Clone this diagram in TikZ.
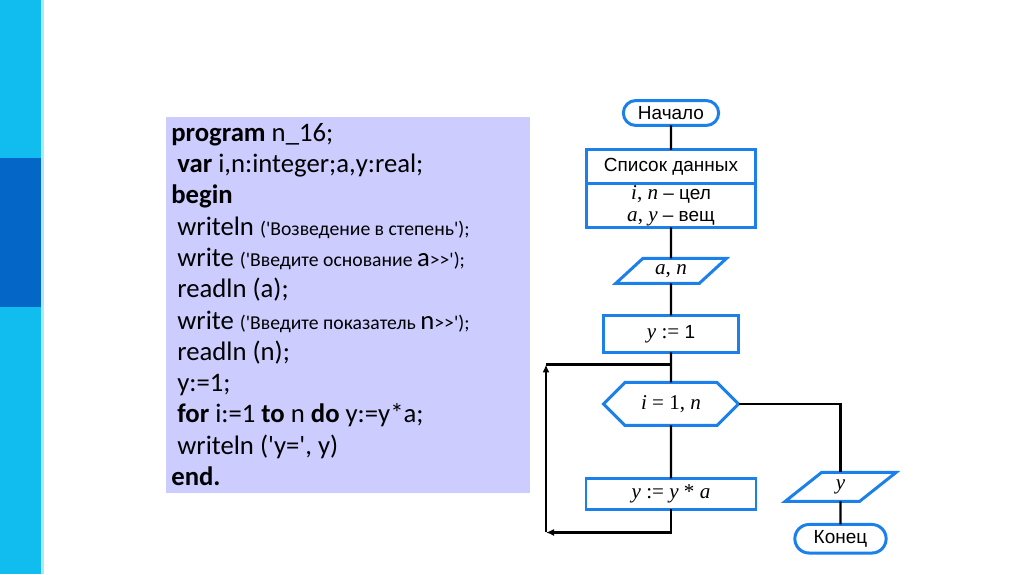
\documentclass[tikz,border=0pt]{standalone}
\usepackage{fontspec}
\newfontfamily\codefont[Ligatures=TeXOff]{Carlito}
\newfontfamily\flowfont{Liberation Sans}
\newfontfamily\tvfont{Liberation Serif}
\usetikzlibrary{arrows.meta,positioning,calc,shapes.geometric,shapes.misc,shapes.symbols}
\definecolor{bandcyan}{HTML}{10BDEE}
\definecolor{banddark}{HTML}{0466C6}
\definecolor{codebg}{HTML}{CCCCFF}
\definecolor{flowblue}{HTML}{1C80EA}
\newcommand{\tv}[1]{{\tvfont\itshape\fontsize{12}{12.5}\selectfont #1}}
\newcommand{\tn}[1]{{\tvfont\fontsize{12}{12.5}\selectfont #1}}
\newcommand{\ru}[1]{{\fontsize{11.2}{17.8}\selectfont #1}}
\newcommand{\ind}{\hspace*{0.12cm}}

\begin{document}
\begin{tikzpicture}[>={Latex[length=1.6mm,width=1.4mm]},
  proc/.style={draw=flowblue,line width=1.7pt,outer sep=0pt,minimum width=2.7cm,align=center,
               font=\flowfont\fontsize{10.8}{12.5}\selectfont},
  term/.style={proc,rounded rectangle,minimum height=0.47cm},
  io/.style={proc,trapezium,trapezium left angle=50,trapezium right angle=130,
             trapezium stretches=true,minimum width=2.22cm},
  cyc/.style={proc,signal,signal to=west and east,signal pointer angle=90},
  flow/.style={line width=1.3pt,draw=black},
  codebox/.style={fill=codebg,inner sep=0pt,minimum width=7.28cm,minimum height=7.52cm},
  codetxt/.style={inner sep=0pt,align=left,font=\codefont\fontsize{15.2}{17.8}\selectfont}]

  \useasboundingbox (0,0) rectangle (20.48,-11.48);
  \fill[white] (0,0) rectangle (20.48,-11.48);

  % ---------- side band ----------
  \fill[bandcyan] (0,0) rectangle (0.82,-11.48);
  \fill[banddark] (0,-3.16) rectangle (0.82,-6.14);
  \fill[bandcyan!35] (0.82,0) rectangle (0.88,-11.48);

  % ---------- program text ----------
  \node[codebox,anchor=north west] (prog) at (3.32,-2.34) {};
  \node[codetxt,anchor=north west] (code) at (3.42,-2.46)
    {\textbf{program} n\_16;\\
     \ind\textbf{var} i,n:integer;a,y:real;\\
     \textbf{begin}\\
     \ind writeln \ru{('Возведение в степень');}\\
     \ind write \ru{('Введите основание }a\ru{>>');}\\
     \ind readln (a);\\
     \ind write \ru{('Введите показатель }n\ru{>>');}\\
     \ind readln (n);\\
     \ind y:=1;\\
     \ind\textbf{for} i:=1 \textbf{to} n \textbf{do} y:=y*a;\\
     \ind writeln ('y=', y)\\
     \textbf{end.}};

  % ---------- flowchart ----------
  \node[term,minimum width=2.14cm] (start) at (13.42,-2.26) {Начало};
  \node[proc,minimum width=3.38cm,minimum height=0.67cm,below=0.49cm of start] (lsth) {Список данных};
  \node[proc,minimum width=3.38cm,minimum height=0.85cm,inner ysep=1pt,below=0pt of lsth] (lstb)
    {\tv{i}\tn{,} \tv{n} – цел\\ \tv{a}\tn{,} \tv{y} – вещ};
  \node[io,minimum height=0.5cm,below=0.62cm of lstb] (inp) {\tv{a}\tn{,} \tv{n}};
  \node[proc,minimum height=0.74cm,below=0.64cm of inp] (one) {\tv{y} \tn{:=} 1};
  \node[cyc,minimum width=2.7cm,minimum height=0.86cm,below=0.6cm of one] (loop)
    {\tv{i} \tn{= 1,} \tv{n}};
  \node[proc,minimum width=3.4cm,minimum height=0.62cm,below=1.06cm of loop] (yya)
    {\tv{y} \tn{:=} \tv{y} \tn{*} \tv{a}};
  \node[io,minimum height=0.58cm,trapezium left angle=52,trapezium right angle=128] (outy)
    at ($(loop.east)+(2.04cm,-1.66cm)$) {\tv{y}};
  \node[term,minimum width=2.06cm,minimum height=0.48cm,below=0.46cm of outy] (fin) {Конец};

  % ---------- connectors ----------
  \coordinate (jn) at ($(one.south)!0.4!(loop.north)$);
  \coordinate (lpl) at ($(yya.south)+(-2.5cm,-0.46cm)$);
  \coordinate (lpt) at (lpl |- jn);
  \draw[flow] (start) -- (lsth);
  \draw[flow] (lstb) -- (inp);
  \draw[flow] (inp) -- (one);
  \draw[flow] (one) -- (loop);
  \draw[flow] (loop) -- (yya);
  \draw[flow,->] (yya.south) |- (lpl);
  \draw[flow,->] (lpl) -- (lpt);
  \draw[flow] (lpt) -- (jn);
  \draw[flow] (loop.east) -| (outy.north);
  \draw[flow] (outy) -- (fin);
\end{tikzpicture}
\end{document}
